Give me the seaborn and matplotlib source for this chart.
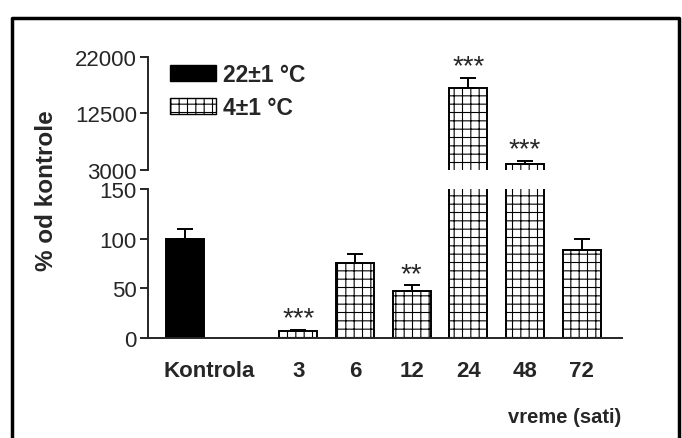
import matplotlib
matplotlib.use("Agg")
import matplotlib.pyplot as plt
from matplotlib.patches import Patch
from matplotlib.lines import Line2D
from matplotlib.transforms import ScaledTranslation
import seaborn as sns
import pandas as pd

# data
categories = ["Kontrola", "3", "6", "12", "24", "48", "72"]
means = [100, 7.5, 76, 47, 16800, 3900, 89]
errors = [10, 1, 9, 6, 1600, 500, 11]
groups = ["22±1 °C", "4±1 °C", "4±1 °C", "4±1 °C", "4±1 °C", "4±1 °C", "4±1 °C"]
stars = ["", "***", "", "**", "***", "***", ""]
order = ["Kontrola", " ", "3", "6", "12", "24", "48", "72"]
lo_ticks = [0, 50, 100, 150]
hi_ticks = [3000, 12500, 22000]

sns.set_style("ticks")
plt.rcParams["font.family"] = ["Liberation Sans", "DejaVu Sans"]
plt.rcParams["hatch.linewidth"] = 0.8

df = pd.DataFrame({"vreme": categories, "val": means, "grupa": groups})
pal = {"22±1 °C": "black", "4±1 °C": "white"}

fig = plt.figure(figsize=(6.82, 4.39), dpi=100)
ax_lo = fig.add_axes([0.217, 0.2278, 0.695, 0.339])
ax_hi = fig.add_axes([0.217, 0.6116, 0.695, 0.2563])

xpos = [order.index(c) for c in categories]

for ax in (ax_lo, ax_hi):
    sns.barplot(data=df, x="vreme", y="val", hue="grupa", order=order, palette=pal,
                dodge=False, width=0.67, edgecolor="black", linewidth=1.4,
                errorbar=None, legend=False, ax=ax)
    for p in ax.patches:
        if p.get_facecolor()[0] > 0.5:
            p.set_hatch("++")
    ax.errorbar(xpos, means, yerr=[[0] * len(errors), errors], fmt="none",
                ecolor="black", elinewidth=1.4, capsize=6, capthick=1.4)
    ax.set_xlim(-0.65, 7.71)
    ax.set_xlabel("")
    ax.set_ylabel("")
    for s in ["top", "right"]:
        ax.spines[s].set_visible(False)
    ax.spines["left"].set_linewidth(1.4)
    ax.spines["bottom"].set_linewidth(1.4)
    ax.tick_params(axis="y", length=6, width=1.4, labelsize=16, pad=2)

ax_lo.set_ylim(0, 150)
ax_lo.set_yticks(lo_ticks)
ax_lo.set_xticks(range(len(order)))
ax_lo.set_xticklabels([c.strip() for c in order], fontsize=16, fontweight="bold")
ax_lo.tick_params(axis="x", length=0, pad=16)
# "Kontrola" sits a bit right of its bar in the original
kl = ax_lo.get_xticklabels()[0]
kl.set_transform(kl.get_transform() + ScaledTranslation(0.24, 0, fig.dpi_scale_trans))

ax_hi.set_ylim(3000, 22000)
ax_hi.set_yticks(hi_ticks)
ax_hi.spines["bottom"].set_visible(False)
ax_hi.set_xticks([])

# significance marks
for x, m, e, s in zip(xpos, means, errors, stars):
    if not s:
        continue
    ax = ax_hi if m > 150 else ax_lo
    ax.annotate(s, (x, m + e), xytext=(0, -1), textcoords="offset points",
                ha="center", va="bottom", fontsize=20)

handles = [Patch(facecolor="black", edgecolor="black", label="22±1 °C"),
           Patch(facecolor="white", edgecolor="black", hatch="++", label="4±1 °C")]
ax_hi.legend(handles=handles, loc="upper left", bbox_to_anchor=(0.003, 1.13), frameon=False,
             handlelength=2.0, handleheight=0.7, handletextpad=0.3, labelspacing=0.45,
             prop={"weight": "bold", "size": 16.5})

fig.text(47 / 682, 1 - 191 / 439, "% od kontrole", rotation=90, ha="center", va="center",
         fontsize=17.5, fontweight="bold")
fig.text(621 / 682, 1 - 418 / 439, "vreme (sati)", ha="right", va="center",
         fontsize=14.5, fontweight="bold")

fig.add_artist(Line2D([0.0176, 0.0176, 0.9956, 0.9956], [0, 0.957, 0.957, 0],
                      transform=fig.transFigure, color="black", lw=2.5))

fig.savefig("out.png", dpi=100)
